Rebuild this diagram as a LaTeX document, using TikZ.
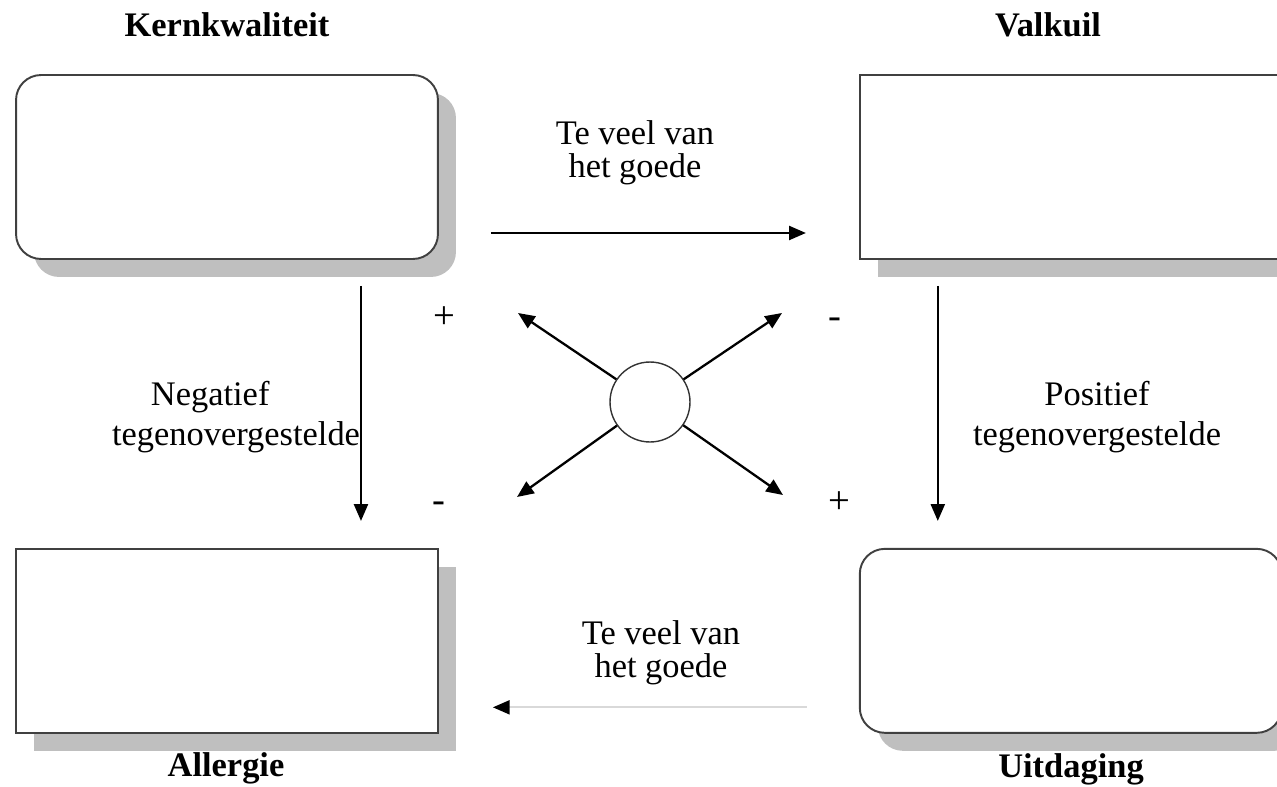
\documentclass[tikz,border=0pt]{standalone}
\usepackage{fontspec}
\setmainfont{Liberation Serif}
\usetikzlibrary{positioning,shadows,arrows.meta}

\begin{document}
\begin{tikzpicture}[x=0.02cm, y=-0.02cm,
    box/.style = {draw=black!75, line width=1.1pt, fill=white,
      minimum width=8.44cm, minimum height=3.68cm,
      drop shadow={shadow xshift=0.36cm, shadow yshift=-0.36cm,
        fill=black!25, opacity=1}},
    rbox/.style = {box, rounded corners=0.5cm},
    title/.style = {font=\fontsize{19.6}{22}\selectfont\bfseries, anchor=base},
    lbl/.style = {font=\fontsize{19.6}{18.5}\selectfont, align=center, inner sep=0pt},
    sign/.style = {font=\fontsize{22}{24}\selectfont, inner sep=0pt},
    arr/.style = {-{Triangle[length=9.5pt,width=8pt]}, line width=1pt},
  ]
  \useasboundingbox (0,0) rectangle (1277,787);
  \clip (0,0) rectangle (1277,787);

  % the four boxes
  \node[rbox] (k) at (227,167) {};
  \node[box, right=8.40cm of k] (v) {};
  \node[box, below=5.76cm of k] (a) {};
  \node[rbox, right=8.40cm of a] (u) {};

  \node[title] (kt) at (227,37) {Kernkwaliteit};
  \node[title] (vt) at (1048,37) {Valkuil};
  \node[title] (at) at (226,776) {Allergie};
  \node[title] (ut) at (1071,777) {Uitdaging};

  % arrows between the boxes
  \draw[arr, shorten <=1.04cm, shorten >=1.06cm]
    ([yshift=-1.32cm]k.east) -- ([yshift=-1.32cm]v.west);
  \draw[arr, draw=black!15, -{Triangle[length=9.5pt,width=8pt,black]},
    shorten <=1.04cm, shorten >=1.08cm]
    ([yshift=-1.33cm]u.west) -- ([yshift=-1.33cm]a.east);
  \draw[arr, shorten <=0.52cm, shorten >=0.54cm]
    ([xshift=2.68cm]k.south) -- ([xshift=2.68cm]a.north);
  \draw[arr, shorten <=0.52cm, shorten >=0.54cm]
    ([xshift=-2.66cm]v.south) -- ([xshift=-2.66cm]u.north);

  \node[lbl] (l1) at (635,153) {Te veel van\\het goede};
  \node[lbl] (l2) at (661,653) {Te veel van\\het goede};
  \node[lbl, font=\fontsize{19.6}{23.2}\selectfont] (l3) at (236,417)
    {Negatief\hspace*{1.5em}\\tegenovergestelde};
  \node[lbl, font=\fontsize{19.6}{23.2}\selectfont] (l4) at (1097,417)
    {Positief\\tegenovergestelde};

  % the cross in the middle
  \node[circle, draw=black!80, line width=0.8pt, minimum size=1.6cm,
    inner sep=0pt] (c) at (650,402) {};
  \coordinate (t1) at (518,313);
  \coordinate (t2) at (782,313);
  \coordinate (t3) at (517,497);
  \coordinate (t4) at (783,495);
  \draw[arr, line width=1.3pt] (c) -- (t1);
  \draw[arr, line width=1.3pt] (c) -- (t2);
  \draw[arr, line width=1.3pt] (c) -- (t3);
  \draw[arr, line width=1.3pt] (c) -- (t4);

  \node[sign] (s1) at (444,318) {+};
  \node[sign] (s2) at (835,323) {-};
  \node[sign] (s3) at (439,507) {-};
  \node[sign] (s4) at (839,503) {+};
\end{tikzpicture}
\end{document}
